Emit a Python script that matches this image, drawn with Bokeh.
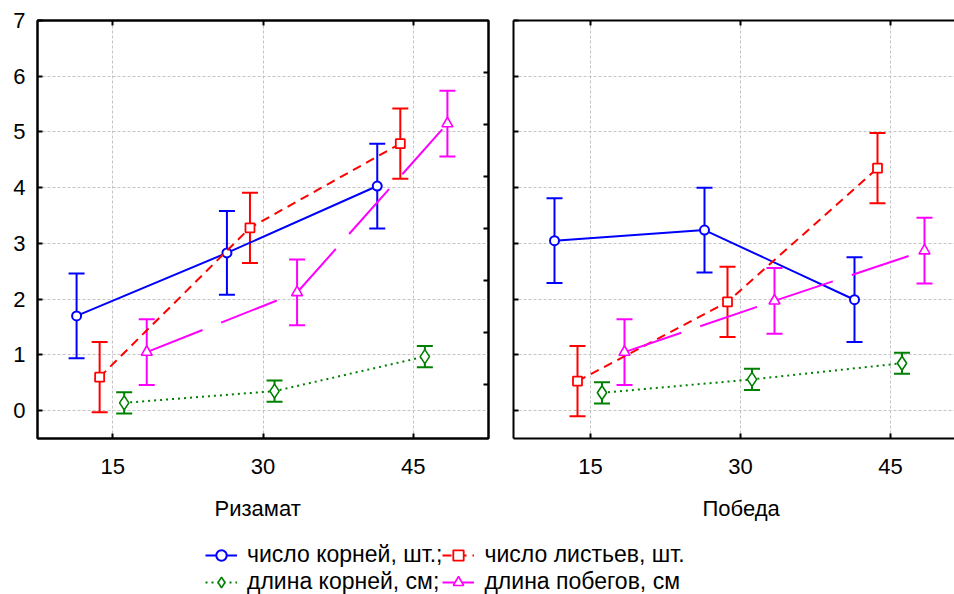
from bokeh.plotting import figure
from bokeh.models import (ColumnDataSource, Range1d, LinearAxis, FixedTicker, Whisker,
                          TeeHead, Title, Legend, LegendItem)
from bokeh.layouts import column, row
from bokeh.transform import dodge
from bokeh.embed import file_html
from bokeh.resources import INLINE

# ---------------- data ----------------
doses = [15, 30, 45]
x_ticks = [15, 30, 45]
y_ticks = [0, 1, 2, 3, 4, 5, 6, 7]
varieties = ["Ризамат", "Победа"]
series_names = ["число корней, шт.;", "число листьев, шт.",
                "длина корней, см;", "длина побегов, см"]

# Ризамат
rizamat_root_count = [1.70, 2.83, 4.03]
rizamat_root_count_err = [0.76, 0.75, 0.76]
rizamat_leaf_count = [0.60, 3.28, 4.79]
rizamat_leaf_count_err = [0.63, 0.63, 0.63]
rizamat_root_length = [0.14, 0.35, 0.97]
rizamat_root_length_err = [0.19, 0.19, 0.19]
rizamat_shoot_length = [1.05, 2.12, 5.15]
rizamat_shoot_length_err = [0.59, 0.59, 0.59]

# Победа
pobeda_root_count = [3.05, 3.24, 1.99]
pobeda_root_count_err = [0.76, 0.76, 0.76]
pobeda_leaf_count = [0.53, 1.95, 4.35]
pobeda_leaf_count_err = [0.63, 0.63, 0.63]
pobeda_root_length = [0.32, 0.56, 0.85]
pobeda_root_length_err = [0.19, 0.19, 0.19]
pobeda_shoot_length = [1.05, 1.97, 2.87]
pobeda_shoot_length_err = [0.59, 0.59, 0.59]

rizamat = [(rizamat_root_count, rizamat_root_count_err),
           (rizamat_leaf_count, rizamat_leaf_count_err),
           (rizamat_root_length, rizamat_root_length_err),
           (rizamat_shoot_length, rizamat_shoot_length_err)]
pobeda = [(pobeda_root_count, pobeda_root_count_err),
          (pobeda_leaf_count, pobeda_leaf_count_err),
          (pobeda_root_length, pobeda_root_length_err),
          (pobeda_shoot_length, pobeda_shoot_length_err)]

# ---------------- styles ----------------
FONT = "Liberation Sans"
styles = [
    dict(color="#0000FF", dash="solid", marker="circle", size=9, mlw=2.0, off=-3.6),
    dict(color="#FF0000", dash="9 6", marker="square", size=9, mlw=1.8, off=-1.3),
    dict(color="#008000", dash="2 4", marker="diamond", size=14, mlw=1.6, off=1.15),
    dict(color="#FF00FF", dash="60 20", marker="triangle", size=11, mlw=1.6, off=3.4),
]
GRID_COLOR = "#c4c4c4"


def style_axis(ax, labels=True, font_size="22px"):
    ax.axis_line_color = "black"
    ax.axis_line_width = 2
    ax.major_tick_in = 5
    ax.major_tick_out = 0
    ax.major_tick_line_width = 2
    ax.major_tick_line_color = "black"
    ax.minor_tick_line_color = None
    if labels:
        ax.major_label_text_font = FONT
        ax.major_label_text_font_size = font_size
        ax.major_label_text_color = "black"
    else:
        ax.major_label_text_color = None
        ax.major_label_text_font_size = "1px"
        ax.major_label_standoff = 0


def make_panel(data, name, x_range, frame_width, border_left, border_right,
               show_ylabels, name_offset, right_axis):
    p = figure(frame_width=frame_width, frame_height=418,
               x_range=x_range, y_range=Range1d(-0.5, 7),
               output_backend="svg", toolbar_location=None, title=None,
               min_border_left=border_left, min_border_right=border_right,
               min_border_top=20, min_border_bottom=0,
               x_axis_location="below", y_axis_location="left")
    p.background_fill_color = "white"
    p.border_fill_color = "white"
    p.outline_line_color = "black" if right_axis else None
    p.outline_line_width = 2

    xa = p.xaxis[0]
    style_axis(xa, labels=True)
    xa.ticker = FixedTicker(ticks=x_ticks)
    xa.major_label_standoff = 20

    ya = p.yaxis[0]
    style_axis(ya, labels=show_ylabels)
    ya.ticker = FixedTicker(ticks=y_ticks)
    if show_ylabels:
        ya.major_label_standoff = 12

    top = LinearAxis()
    style_axis(top, labels=False)
    top.ticker = FixedTicker(ticks=x_ticks)
    p.add_layout(top, "above")

    if right_axis:
        p.extra_y_ranges = {"r": Range1d(-1.03, 7.0)}
        ra = LinearAxis(y_range_name="r")
        style_axis(ra, labels=False)
        ra.ticker = FixedTicker(ticks=[0, 1, 2, 3, 4, 5, 6])
        p.add_layout(ra, "right")

    p.xgrid.ticker = FixedTicker(ticks=x_ticks)
    p.ygrid.ticker = FixedTicker(ticks=y_ticks)
    for g in (p.xgrid[0], p.ygrid[0]):
        g.grid_line_color = GRID_COLOR
        g.grid_line_dash = "3 2"
        g.grid_line_width = 1

    for (vals, errs), st in zip(data, styles):
        src = ColumnDataSource(dict(
            x=doses, y=vals,
            upper=[v + e for v, e in zip(vals, errs)],
            lower=[v - e for v, e in zip(vals, errs)]))
        p.line(x=dodge("x", st["off"]), y="y", source=src, line_color=st["color"],
               line_width=2, line_dash=st["dash"])
        w = Whisker(base=dodge("x", st["off"]), upper="upper", lower="lower", source=src,
                    line_color=st["color"], line_width=2,
                    upper_head=TeeHead(size=16, line_color=st["color"], line_width=2),
                    lower_head=TeeHead(size=16, line_color=st["color"], line_width=2))
        p.add_layout(w)
        p.scatter(x=dodge("x", st["off"]), y="y", source=src, marker=st["marker"],
                  size=st["size"], line_color=st["color"], line_width=st["mlw"],
                  fill_color="white")

    t = Title(text=name, align="left", offset=name_offset, text_font=FONT,
              text_font_size="22px", text_font_style="normal", text_color="black",
              standoff=34)
    p.add_layout(t, "below")
    return p


p1 = make_panel(rizamat, varieties[0], Range1d(7.5, 52.5), 451, 37, 10,
                True, 177, True)
p2 = make_panel(pobeda, varieties[1], Range1d(7.3, 51.4), 441, 15, 0,
                False, 189, False)

# ---------------- legend figure ----------------
p3 = figure(width=954, height=58, x_range=Range1d(0, 1), y_range=Range1d(0, 1),
            output_backend="svg", toolbar_location=None, min_border=0)
p3.axis.visible = False
p3.grid.visible = False
p3.outline_line_color = None

items = []
for nm, st in zip(series_names, styles):
    rl = p3.line(x=[-5, -4], y=[-5, -4], line_color=st["color"], line_width=2,
                 line_dash=st["dash"])
    rm = p3.scatter(x=[-5], y=[-5], marker=st["marker"], size=st["size"],
                    line_color=st["color"], line_width=st["mlw"], fill_color="white")
    items.append(LegendItem(label=nm, renderers=[rl, rm]))

legend = Legend(items=items, location=(205, 0), orientation="horizontal", ncols=2,
                label_text_font=FONT, label_text_font_size="23px", label_text_color="black",
                glyph_width=32, glyph_height=26, label_standoff=10, spacing=0,
                padding=0, margin=0, border_line_color=None, background_fill_alpha=0,
                label_height=26)
p3.add_layout(legend)

layout = column(row(p1, p2), p3)

with open("out.html", "w") as f:
    f.write(file_html(layout, INLINE))
